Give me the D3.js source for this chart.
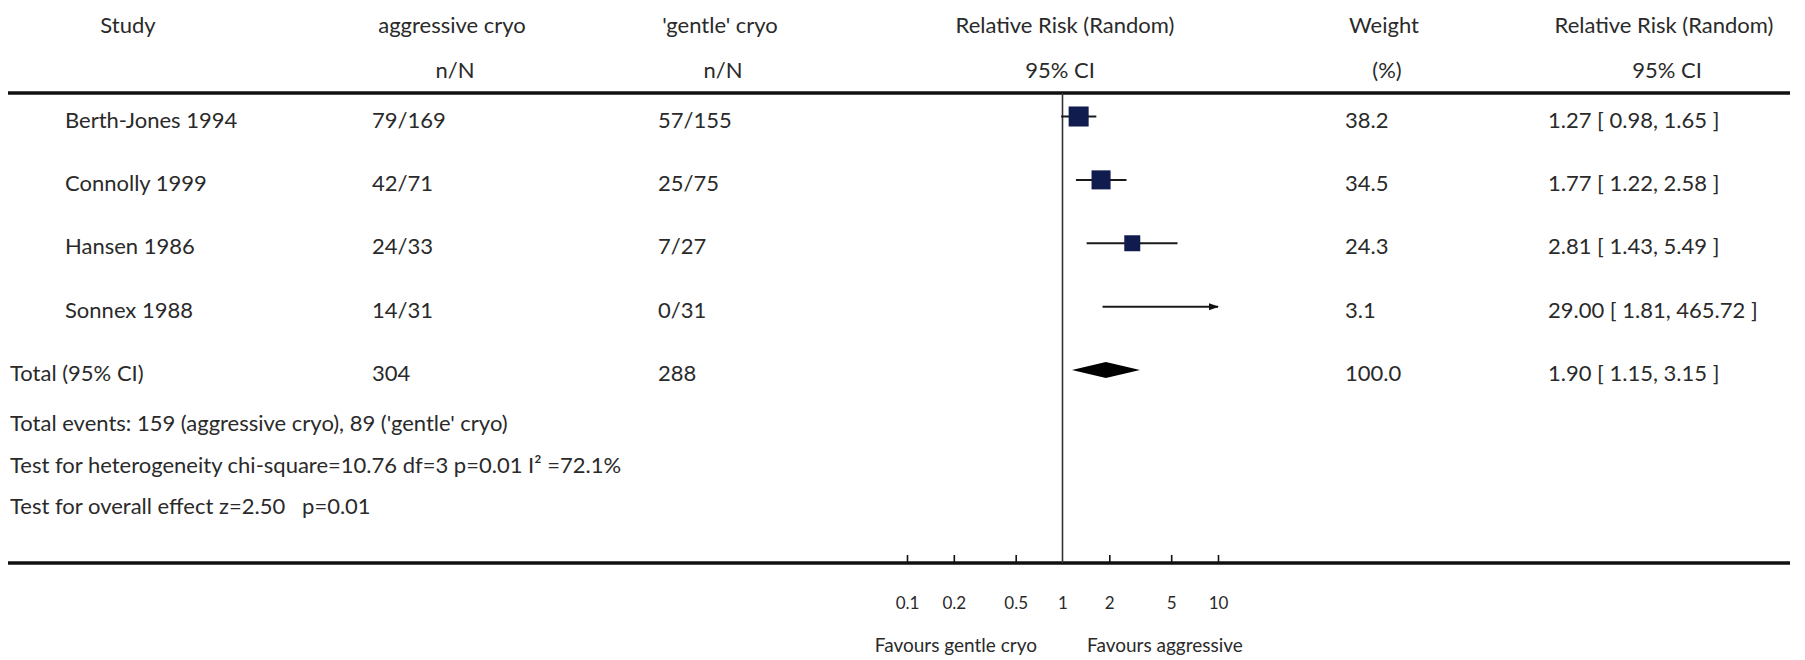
<!DOCTYPE html>
<html>
<head>
<meta charset="utf-8">
<script src="https://cdn.jsdelivr.net/npm/d3@7"></script>
<style>
  html, body { margin: 0; padding: 0; background: #fff; }
  svg { display: block; }
  text { font-family: Lato, "Open Sans", sans-serif; fill: #2a2a2a; white-space: pre; }
</style>
</head>
<body>
<svg id="chart" width="1805" height="660"></svg>
<script>
// ---- data ----
const studies = ["Berth-Jones 1994", "Connolly 1999", "Hansen 1986", "Sonnex 1988"];
const aggressive = ["79/169", "42/71", "24/33", "14/31"];
const gentle = ["57/155", "25/75", "7/27", "0/31"];
const rr = [1.27, 1.77, 2.81, 29.00];
const ciLow = [0.98, 1.22, 1.43, 1.81];
const ciHigh = [1.65, 2.58, 5.49, 465.72];
const weights = [38.2, 34.5, 24.3, 3.1];
const ciText = ["1.27 [ 0.98, 1.65 ]", "1.77 [ 1.22, 2.58 ]", "2.81 [ 1.43, 5.49 ]", "29.00 [ 1.81, 465.72 ]"];
const weightText = ["38.2", "34.5", "24.3", "3.1"];

const totalLabel = "Total (95% CI)";
const totalAggressive = "304";
const totalGentle = "288";
const totalRR = 1.90, totalLow = 1.15, totalHigh = 3.15;
const totalWeightText = "100.0";
const totalCIText = "1.90 [ 1.15, 3.15 ]";

const footnotes = [
  "Total events: 159 (aggressive cryo), 89 ('gentle' cryo)",
  "Test for heterogeneity chi-square=10.76 df=3 p=0.01 I\u00B2 =72.1%",
  "Test for overall effect z=2.50   p=0.01"
];

const tickValues = [0.1, 0.2, 0.5, 1, 2, 5, 10];
const tickLabels = ["0.1", "0.2", "0.5", "1", "2", "5", "10"];
const favourLeft = "Favours gentle cryo";
const favourRight = "Favours aggressive";

const header1 = ["Study", "aggressive cryo", "'gentle' cryo", "Relative Risk (Random)", "Weight", "Relative Risk (Random)"];
const header2 = ["", "n/N", "n/N", "95% CI", "(%)", "95% CI"];

// ---- layout ----
const svg = d3.select("#chart");
const FS = 22;
const x = d3.scaleLog().domain([0.1, 10]).range([907, 1218]);
const rowBase = d3.scaleLinear().domain([0, 4]).range([127.5, 381]);
const headerX = [128, 452, 720, 1065, 1384, 1664];
const lineTop = 93, lineBottom = 563;

// headers
svg.selectAll("text.h1").data(header1).join("text")
  .attr("class", "h1")
  .attr("x", (d, i) => headerX[i]).attr("y", 33)
  .attr("text-anchor", "middle").attr("font-size", FS).text(d => d);
svg.selectAll("text.h2").data(header2).join("text")
  .attr("class", "h2")
  .attr("x", (d, i) => headerX[i] + (i === 3 ? -5 : 3)).attr("y", 78)
  .attr("text-anchor", "middle").attr("font-size", FS).text(d => d);

// horizontal rules
svg.append("line").attr("x1", 8).attr("x2", 1790).attr("y1", lineTop).attr("y2", lineTop)
  .attr("stroke", "#111").attr("stroke-width", 3.5);
svg.append("line").attr("x1", 8).attr("x2", 1790).attr("y1", lineBottom).attr("y2", lineBottom)
  .attr("stroke", "#111").attr("stroke-width", 3.5);

// vertical line of no effect
svg.append("line").attr("x1", x(1)).attr("x2", x(1)).attr("y1", lineTop).attr("y2", lineBottom)
  .attr("stroke", "#333").attr("stroke-width", 1.6);

// study rows text
const cols = [
  { x: 65, vals: studies },
  { x: 372, vals: aggressive },
  { x: 658, vals: gentle },
  { x: 1345, vals: weightText },
  { x: 1548, vals: ciText }
];
cols.forEach((c, ci) => {
  svg.selectAll("text.c" + ci).data(c.vals).join("text")
    .attr("class", "c" + ci)
    .attr("x", c.x).attr("y", (d, i) => rowBase(i))
    .attr("font-size", FS).text(d => d);
});

// total row text
const totalRowY = rowBase(4);
[[10, totalLabel], [372, totalAggressive], [658, totalGentle], [1345, totalWeightText], [1548, totalCIText]]
  .forEach(([tx, t]) => {
    svg.append("text").attr("x", tx).attr("y", totalRowY).attr("font-size", FS).text(t);
  });

// footnotes
svg.selectAll("text.fn").data(footnotes).join("text")
  .attr("class", "fn")
  .attr("x", 10).attr("y", (d, i) => 431 + i * 41.5)
  .attr("font-size", FS).text(d => d);

// marker definition for arrow
svg.append("defs").append("marker")
  .attr("id", "arrow").attr("viewBox", "0 0 10 10")
  .attr("refX", 9).attr("refY", 5)
  .attr("markerWidth", 5).attr("markerHeight", 5)
  .attr("markerUnits", "strokeWidth")
  .attr("orient", "auto")
  .append("path").attr("d", "M0,1.5 L10,5 L0,8.5 Z").attr("fill", "#111");

// forest marks
const [dMin, dMax] = x.domain();
const clip = v => Math.max(dMin, Math.min(dMax, v));
const markY = i => rowBase(i) - 11;
const size = d3.scaleSqrt().domain([0, 100]).range([0, 32.4]);

const rows = studies.map((s, i) => ({ i, rr: rr[i], lo: ciLow[i], hi: ciHigh[i], w: weights[i] }));

svg.selectAll("line.ci").data(rows).join("line")
  .attr("class", "ci")
  .attr("x1", d => x(clip(d.lo))).attr("x2", d => x(clip(d.hi)))
  .attr("y1", d => markY(d.i)).attr("y2", d => markY(d.i))
  .attr("stroke", "#1a1a1a").attr("stroke-width", 2)
  .attr("marker-end", d => d.hi > dMax ? "url(#arrow)" : null);

svg.selectAll("rect.pt").data(rows.filter(d => d.rr <= dMax && d.rr >= dMin)).join("rect")
  .attr("class", "pt")
  .attr("x", d => x(d.rr) - size(d.w) / 2)
  .attr("y", d => markY(d.i) - size(d.w) / 2)
  .attr("width", d => size(d.w)).attr("height", d => size(d.w))
  .attr("fill", "#0f1c4d");

// diamond
const dy = markY(4);
svg.append("path")
  .attr("d", `M${x(totalLow)},${dy} L${x(totalRR)},${dy - 8} L${x(totalHigh)},${dy} L${x(totalRR)},${dy + 8} Z`)
  .attr("fill", "#000");

// axis
const axis = d3.axisBottom(x)
  .tickValues(tickValues)
  .tickFormat((d, i) => tickLabels[i])
  .tickSizeInner(-8).tickSizeOuter(0).tickPadding(34);
const gAxis = svg.append("g").attr("transform", `translate(0,${lineBottom})`).call(axis);
gAxis.select(".domain").remove();
gAxis.selectAll(".tick line").attr("stroke", "#111").attr("stroke-width", 1.6)
  .filter(d => d === 1).remove();
gAxis.selectAll(".tick text")
  .attr("font-family", "Lato, 'Open Sans', sans-serif")
  .attr("font-size", 17).attr("fill", "#2a2a2a");

// favours labels
svg.append("text").attr("x", 1037).attr("y", 652).attr("text-anchor", "end")
  .attr("font-size", 19).text(favourLeft);
svg.append("text").attr("x", 1087).attr("y", 652).attr("text-anchor", "start")
  .attr("font-size", 19).text(favourRight);
</script>
</body>
</html>
